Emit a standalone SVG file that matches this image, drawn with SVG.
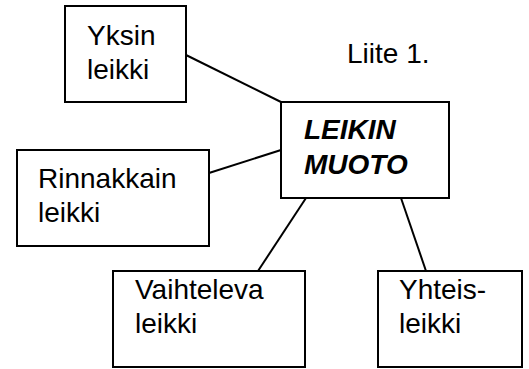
<svg xmlns="http://www.w3.org/2000/svg" width="529" height="369" viewBox="0 0 529 369">
<style>
.box{fill:#fff;stroke:#000;stroke-width:2}
.ln{stroke:#000;stroke-width:2;fill:none}
text{font-family:"Liberation Sans",Arial,sans-serif;font-size:28px;fill:#000}
.b{font-weight:bold;font-style:italic}
</style>
<rect width="529" height="369" fill="#fff"/>
<g id="connectors">
<line class="ln" x1="186" y1="55" x2="281" y2="102"/>
<line class="ln" x1="209" y1="173" x2="281" y2="150"/>
<line class="ln" x1="306" y1="198" x2="258" y2="271"/>
<line class="ln" x1="401" y1="198" x2="426" y2="271"/>
</g>
<g id="yksin">
<rect class="box" x="65" y="6" width="121" height="96"/>
<text x="87" y="45">Yksin</text>
<text x="87" y="79">leikki</text>
</g>
<g id="rinnakkain">
<rect class="box" x="17" y="150" width="192" height="96"/>
<text x="38" y="188">Rinnakkain</text>
<text x="38" y="222">leikki</text>
</g>
<g id="leikin-muoto">
<rect class="box" x="281" y="102" width="168" height="96"/>
<text class="b" x="304" y="139">LEIKIN</text>
<text class="b" x="304" y="174">MUOTO</text>
</g>
<g id="vaihteleva">
<rect class="box" x="113" y="271" width="192" height="96"/>
<text x="135" y="299">Vaihteleva</text>
<text x="135" y="333">leikki</text>
</g>
<g id="yhteis">
<rect class="box" x="378" y="271" width="144" height="96"/>
<text x="399" y="299">Yhteis-</text>
<text x="399" y="333">leikki</text>
</g>
<g id="liite">
<text x="347" y="63">Liite 1.</text>
</g>
</svg>
